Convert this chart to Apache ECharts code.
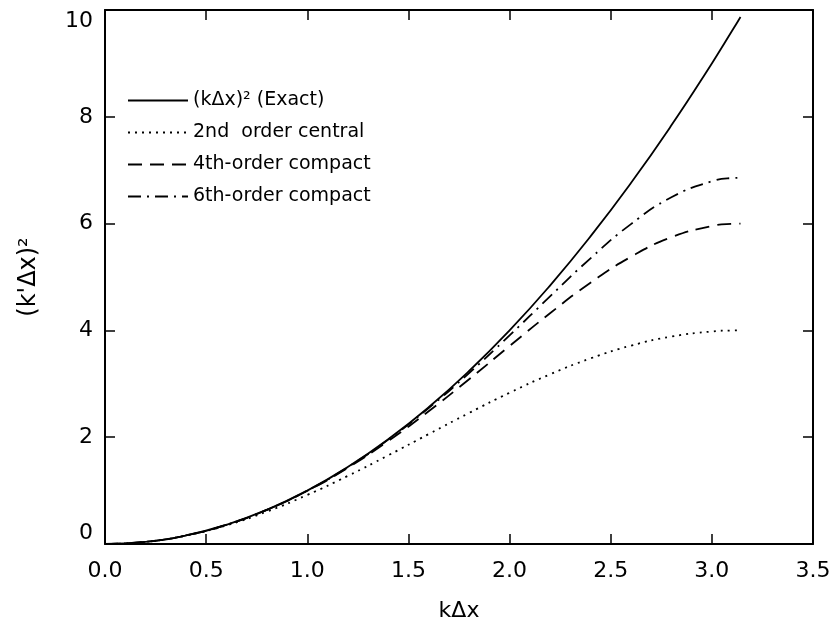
<!DOCTYPE html>
<html>
<head>
<meta charset="utf-8">
<script src="https://cdn.jsdelivr.net/npm/echarts@6/dist/echarts.min.js"></script>
<style>
  html, body { margin: 0; padding: 0; background: #fff; }
  #chart { width: 836px; height: 621px; }
</style>
</head>
<body>
<div id="chart"></div>
<script>
// values
const kdx = [0, 0.2, 0.4, 0.6, 0.8, 1.0, 1.2, 1.4, 1.6, 1.8, 2.0, 2.2, 2.4, 2.6, 2.8, 3.0, 3.1, 3.1416];
const exact = [0, 0.04, 0.16, 0.36, 0.64, 1.0, 1.44, 1.96, 2.56, 3.24, 4.0, 4.84, 5.76, 6.76, 7.84, 9.0, 9.61, 9.87];
const central2 = [0, 0.04, 0.158, 0.349, 0.607, 0.919, 1.275, 1.66, 2.058, 2.454, 2.832, 3.177, 3.475, 3.714, 3.884, 3.98, 3.998, 4.0];
const compact4 = [0, 0.04, 0.16, 0.36, 0.639, 0.996, 1.427, 1.927, 2.485, 3.085, 3.707, 4.321, 4.891, 5.378, 5.744, 5.955, 5.996, 6.0];
const compact6 = [0, 0.04, 0.16, 0.36, 0.64, 1.0, 1.439, 1.955, 2.545, 3.201, 3.906, 4.636, 5.35, 5.99, 6.493, 6.793, 6.852, 6.857];

const xTicks = [0, 0.5, 1.0, 1.5, 2.0, 2.5, 3.0, 3.5];
const yTicks = [0, 2, 4, 6, 8, 10];

const names = ['(kΔx)² (Exact)', '2nd  order central', '4th-order compact', '6th-order compact'];
const lineTypes = ['solid', [2, 5], [14, 8], [13, 6, 2, 6]];

const font = 'DejaVu Sans, sans-serif';
const pairs = ys => kdx.map((x, i) => [x, ys[i]]);

const myChart = echarts.init(document.getElementById('chart'));

const axisLine = { show: true, onZero: false, lineStyle: { color: '#000', width: 2 } };
const tick = { show: true, inside: true, length: 10, lineStyle: { color: '#000', width: 1.5 } };

const option = {
  backgroundColor: '#fff',
  animation: false,
  grid: { left: 105, right: 23, top: 10, bottom: 77, containLabel: false, outerBoundsMode: 'none' },
  legend: {
    orient: 'vertical',
    left: 122,
    top: 86,
    itemWidth: 60,
    itemHeight: 14,
    itemGap: 13,
    itemStyle: { opacity: 0 },
    textStyle: { color: '#000', fontSize: 19, fontFamily: font },
    data: names
  },
  xAxis: [
    {
      type: 'value', min: 0, max: 3.5, interval: 0.5,
      name: 'kΔx', nameLocation: 'middle', nameGap: 56,
      nameTextStyle: { color: '#000', fontSize: 22, fontFamily: font },
      axisLine: axisLine, axisTick: tick,
      axisLabel: { color: '#000', fontSize: 22, fontFamily: font, margin: 16,
        formatter: v => xTicks.includes(v) ? v.toFixed(1) : '' },
      splitLine: { show: false }
    },
    {
      type: 'value', min: 0, max: 3.5, interval: 0.5, position: 'top',
      axisLine: axisLine, axisTick: tick, axisLabel: { show: false }, splitLine: { show: false }
    }
  ],
  yAxis: [
    {
      type: 'value', min: 0, max: 10, interval: 2,
      name: "(k'Δx)²", nameLocation: 'middle', nameGap: 64, nameRotate: 90,
      nameTextStyle: { color: '#000', fontSize: 24, fontFamily: font },
      axisLine: axisLine, axisTick: tick,
      axisLabel: { color: '#000', fontSize: 22, fontFamily: font, margin: 12,
        verticalAlignMinLabel: 'bottom', verticalAlignMaxLabel: 'top',
        formatter: v => yTicks.includes(v) ? String(v) : '' },
      splitLine: { show: false }
    },
    {
      type: 'value', min: 0, max: 10, interval: 2, position: 'right',
      axisLine: axisLine, axisTick: tick, axisLabel: { show: false }, splitLine: { show: false }
    }
  ],
  series: [exact, central2, compact4, compact6].map((ys, i) => ({
    name: names[i],
    type: 'line',
    data: pairs(ys),
    smooth: true,
    showSymbol: false,
    symbol: 'none',
    lineStyle: { color: '#000', width: 1.8, type: lineTypes[i] },
    itemStyle: { color: '#000' }
  }))
};

option && myChart.setOption(option);
</script>
</body>
</html>
